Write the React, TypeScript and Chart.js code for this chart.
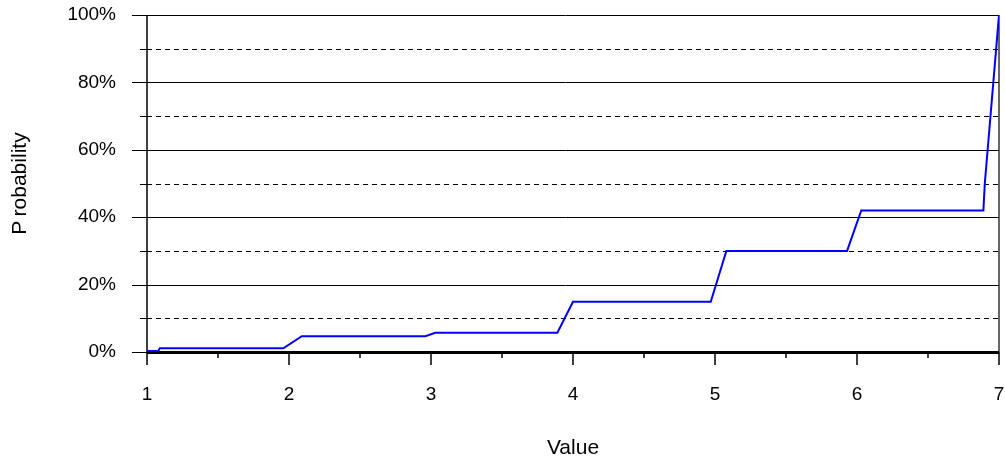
import React, { useEffect, useRef } from "react";
import { Chart, registerables } from "chart.js";

Chart.register(...registerables);

const xValues: number[] = [1, 1.08, 1.09, 1.96, 2.09, 2.96, 3.03, 3.89, 4.0, 4.97, 5.08, 5.93, 6.03, 6.89, 6.9, 6.96, 7];
const yValues: number[] = [0.003, 0.004, 0.011, 0.011, 0.047, 0.047, 0.057, 0.057, 0.149, 0.149, 0.3, 0.3, 0.42, 0.42, 0.5, 0.8, 1.0];
const xTickValues: number[] = [1, 2, 3, 4, 5, 6, 7];
const xMinorTicks: number[] = [1.5, 2.5, 3.5, 4.5, 5.5, 6.5];
const yTenths: number[] = [0, 1, 2, 3, 4, 5, 6, 7, 8, 9, 10];

const FONT = "'Liberation Sans', Arial, sans-serif";

const framePlugin = {
  id: "frame",
  beforeDatasetsDraw(chart: any) {
    const { ctx, chartArea } = chart;
    const { left, right, top, bottom } = chartArea;
    const ys = chart.scales.y;
    const xs = chart.scales.x;
    ctx.save();
    ctx.strokeStyle = "#000";
    yTenths.forEach((t) => {
      if (t === 0) return;
      const y = Math.round(ys.getPixelForValue(t / 10)) + 0.5;
      ctx.setLineDash([]);
      ctx.lineWidth = 1;
      if (t % 2 === 0) {
        ctx.beginPath();
        ctx.moveTo(left - 15, y);
        ctx.lineTo(right, y);
        ctx.stroke();
      } else {
        ctx.beginPath();
        ctx.moveTo(left - 7, y);
        ctx.lineTo(left, y);
        ctx.stroke();
        ctx.setLineDash([5, 4]);
        ctx.beginPath();
        ctx.moveTo(left, y);
        ctx.lineTo(right, y);
        ctx.stroke();
      }
    });
    ctx.setLineDash([]);
    const y0 = Math.round(bottom);
    ctx.lineWidth = 1;
    ctx.beginPath();
    ctx.moveTo(left - 15, y0 + 0.5);
    ctx.lineTo(left, y0 + 0.5);
    ctx.stroke();
    ctx.lineWidth = 1.5;
    ctx.beginPath();
    ctx.moveTo(left, top);
    ctx.lineTo(left, bottom);
    ctx.stroke();
    ctx.strokeStyle = "#333";
    ctx.lineWidth = 1.5;
    ctx.beginPath();
    ctx.moveTo(right, top);
    ctx.lineTo(right, bottom);
    ctx.stroke();
    ctx.strokeStyle = "#000";
    ctx.lineWidth = 3;
    ctx.beginPath();
    ctx.moveTo(left, y0 + 0.5);
    ctx.lineTo(right, y0 + 0.5);
    ctx.stroke();
    ctx.lineWidth = 1.5;
    xTickValues.forEach((v) => {
      const x = xs.getPixelForValue(v);
      ctx.beginPath();
      ctx.moveTo(x, y0);
      ctx.lineTo(x, y0 + 13);
      ctx.stroke();
    });
    xMinorTicks.forEach((v) => {
      const x = xs.getPixelForValue(v);
      ctx.beginPath();
      ctx.moveTo(x, y0);
      ctx.lineTo(x, y0 + 6);
      ctx.stroke();
    });
    ctx.restore();
  },
};

const zeroPad = (scale: any) => {
  scale.paddingLeft = 0;
  scale.paddingRight = 0;
  scale.paddingTop = 0;
  scale.paddingBottom = 0;
};

export default function App() {
  const ref = useRef<HTMLCanvasElement | null>(null);
  useEffect(() => {
    if (!ref.current) return;
    const data = xValues.map((x, i) => ({ x, y: yValues[i] }));
    const chart = new Chart(ref.current, {
      type: "line",
      data: {
        datasets: [
          {
            data,
            borderColor: "#0000FF",
            borderWidth: 2,
            pointRadius: 0,
            tension: 0,
            fill: false,
          },
        ],
      },
      options: {
        animation: false,
        responsive: false,
        layout: { padding: { top: 15, right: 6, left: 0, bottom: 0 } },
        plugins: { legend: { display: false }, tooltip: { enabled: false } },
        scales: {
          x: {
            type: "linear",
            min: 1,
            max: 7,
            grid: { display: false, drawTicks: false },
            border: { display: false },
            afterBuildTicks: (scale: any) => {
              scale.ticks = xTickValues.map((v) => ({ value: v }));
            },
            ticks: {
              padding: 31,
              color: "#000",
              font: { family: FONT, size: 19 },
              callback: (v: any) => String(v),
            },
            title: {
              display: true,
              text: "Value",
              color: "#000",
              font: { family: FONT, size: 21 },
              padding: { top: 0, bottom: 5 },
            },
            afterFit: (scale: any) => {
              scale.height = 114;
              zeroPad(scale);
            },
          },
          y: {
            type: "linear",
            min: 0,
            max: 1,
            grid: { display: false, drawTicks: false },
            border: { display: false },
            afterBuildTicks: (scale: any) => {
              scale.ticks = yTenths.filter((t) => t % 2 === 0).map((t) => ({ value: t / 10 }));
            },
            ticks: {
              padding: 31,
              color: "#000",
              font: { family: FONT, size: 19 },
              callback: (v: any) => `${Math.round(Number(v) * 100)}%`,
            },
            title: {
              display: true,
              text: "P\u2009robability",
              color: "#000",
              font: { family: FONT, size: 21 },
              padding: { top: 8, bottom: 0 },
            },
            afterFit: (scale: any) => {
              scale.width = 147;
              zeroPad(scale);
            },
          },
        },
      },
      plugins: [framePlugin],
    });
    return () => chart.destroy();
  }, []);
  return (
    <div style={{ position: "fixed", left: 0, top: 0, width: 1005, height: 466, background: "#fff" }}>
      <canvas ref={ref} width={1005} height={466} style={{ display: "block" }} />
    </div>
  );
}
